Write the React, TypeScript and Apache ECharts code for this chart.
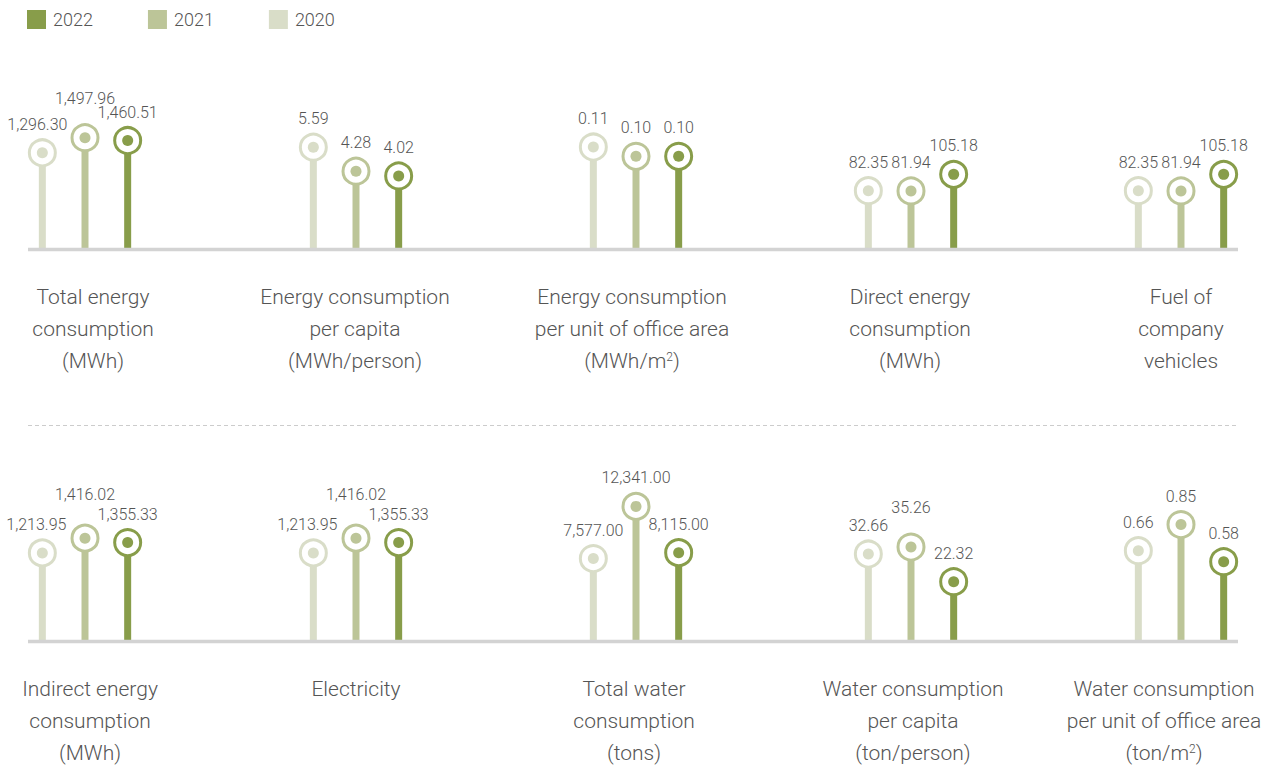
import React, { useEffect, useRef } from "react";
import * as echarts from "echarts";

// ---- Data ----
const years = ["2020", "2021", "2022"];
const legendOrder = ["2022", "2021", "2020"];

const groupLabels = [
  "Total energy\nconsumption\n(MWh)",
  "Energy consumption\nper capita\n(MWh/person)",
  "Energy consumption\nper unit of office area\n(MWh/m{sup|2})",
  "Direct energy\nconsumption\n(MWh)",
  "Fuel of\ncompany\nvehicles",
  "Indirect energy\nconsumption\n(MWh)",
  "Electricity",
  "Total water\nconsumption\n(tons)",
  "Water consumption\nper capita\n(ton/person)",
  "Water consumption\nper unit of office area\n(ton/m{sup|2})",
];

const values2020 = [1296.3, 5.59, 0.11, 82.35, 82.35, 1213.95, 1213.95, 7577.0, 32.66, 0.66];
const values2021 = [1497.96, 4.28, 0.1, 81.94, 81.94, 1416.02, 1416.02, 12341.0, 35.26, 0.85];
const values2022 = [1460.51, 4.02, 0.1, 105.18, 105.18, 1355.33, 1355.33, 8115.0, 22.32, 0.58];

// per-group axis maximum (each group is drawn on its own scale)
const axisMax = [2010, 8.2, 0.161, 210, 210, 2055, 2055, 13700, 56, 1.09];

// ---- Styles / layout ----
const yearColors = ["#d9ddc8", "#bcc598", "#889d4a"];
const textColor = "#555555";
const fontFamily = "Roboto, 'Liberation Sans', sans-serif";
const groupCenters = [85, 356, 636, 911, 1181];
const labelCenters = [93, 355, 632, 910, 1181, 90, 356, 634, 913, 1164];
const rowBaselines = [249.5, 641.5];
const plotHeight = 150;
const groupWidth = 128;
// value-label nudges to keep neighbouring labels apart: [group, yearIndex, dx, dy]
const labelNudges: [number, number, number, number][] = [
  [0, 0, -5, 0],
  [0, 1, 0, -11],
  [5, 0, -6, 0],
  [5, 1, 0, -15],
  [6, 0, -6, 0],
  [6, 1, 0, -15],
  [8, 1, 0, -11],
];

const fmt = (v: number) =>
  v.toLocaleString("en-US", { minimumFractionDigits: 2, maximumFractionDigits: 2 });

function buildOption() {
  const seriesValues = [values2020, values2021, values2022];
  const grids: any[] = [];
  const xAxes: any[] = [];
  const yAxes: any[] = [];
  const series: any[] = [];
  const graphics: any[] = [];

  groupLabels.forEach((label, g) => {
    const row = Math.floor(g / 5);
    const col = g % 5;
    const base = rowBaselines[row];
    grids.push({
      left: groupCenters[col] - groupWidth / 2,
      top: base - plotHeight,
      width: groupWidth,
      height: plotHeight,
      containLabel: false,
    });
    xAxes.push({
      type: "category",
      gridIndex: g,
      data: years,
      axisLine: { show: false },
      axisTick: { show: false },
      axisLabel: { show: false },
      splitLine: { show: false },
    });
    yAxes.push({
      type: "value",
      gridIndex: g,
      min: 0,
      max: axisMax[g],
      show: false,
      splitLine: { show: false },
    });
    graphics.push({
      type: "text",
      x: labelCenters[g],
      y: base + 31.5,
      z: 10,
      style: {
        text: label,
        fill: textColor,
        fontSize: 21,
        fontFamily,
        fontWeight: 300,
        lineHeight: 32,
        align: "center",
        verticalAlign: "top",
        rich: {
          sup: {
            fontSize: 12,
            fontFamily,
            fontWeight: 300,
            fill: textColor,
            verticalAlign: "middle",
            padding: [0, 0, 9, 0],
          },
        },
      },
    });
  });

  const dataItem = (g: number, k: number, withLabel: boolean) => {
    const item: any = { value: [k, [values2020, values2021, values2022][k][g]] };
    if (withLabel) {
      const n = labelNudges.find((x) => x[0] === g && x[1] === k);
      if (n) item.label = { offset: [n[2], n[3]] };
    }
    return item;
  };

  // bars first (so the legend picks up the solid colour)
  years.forEach((year, k) => {
    groupLabels.forEach((_, g) => {
      series.push({
        name: year,
        type: "bar",
        xAxisIndex: g,
        yAxisIndex: g,
        barWidth: 7,
        barGap: "-100%",
        itemStyle: { color: yearColors[k] },
        data: [dataItem(g, k, false)],
        z: 2,
        silent: true,
      });
    });
  });

  years.forEach((year, k) => {
    groupLabels.forEach((_, g) => {
      series.push({
        name: year,
        type: "scatter",
        xAxisIndex: g,
        yAxisIndex: g,
        symbol: "circle",
        symbolSize: 26,
        itemStyle: { color: "#ffffff", borderColor: yearColors[k], borderWidth: 3, opacity: 1 },
        label: {
          show: true,
          position: "top",
          distance: 6,
          formatter: (p: any) => fmt(p.value[1]),
          fontSize: 16,
          color: textColor,
          fontFamily,
          fontWeight: 300,
        },
        data: [dataItem(g, k, true)],
        z: 3,
        silent: true,
      });
      series.push({
        name: year,
        type: "scatter",
        xAxisIndex: g,
        yAxisIndex: g,
        symbol: "circle",
        symbolSize: 11,
        itemStyle: { color: yearColors[k], opacity: 1 },
        data: [dataItem(g, k, false)],
        z: 4,
        silent: true,
      });
    });
  });

  void seriesValues;

  graphics.push(
    {
      type: "line",
      shape: { x1: 28, y1: rowBaselines[0], x2: 1238, y2: rowBaselines[0] },
      style: { stroke: "#d3d3d3", lineWidth: 3.5 },
      z: 10,
    },
    {
      type: "line",
      shape: { x1: 28, y1: rowBaselines[1], x2: 1238, y2: rowBaselines[1] },
      style: { stroke: "#d3d3d3", lineWidth: 3.5 },
      z: 10,
    },
    {
      type: "line",
      shape: { x1: 28, y1: 425.5, x2: 1238, y2: 425.5 },
      style: { stroke: "#cccccc", lineWidth: 1, lineDash: [4, 3] },
      z: 10,
    }
  );

  return {
    animation: false,
    backgroundColor: "#ffffff",
    legend: {
      data: legendOrder,
      left: 27,
      top: 10,
      padding: 0,
      icon: "rect",
      itemWidth: 19,
      itemHeight: 19,
      itemGap: 55,
      selectedMode: false,
      textStyle: { fontSize: 18, color: textColor, fontFamily, fontWeight: 300, padding: [0, 0, 0, 2] },
    },
    grid: grids,
    xAxis: xAxes,
    yAxis: yAxes,
    series,
    graphic: graphics,
  };
}

export default function App() {
  const ref = useRef<HTMLDivElement>(null);
  useEffect(() => {
    if (!ref.current) return;
    const chart = echarts.init(ref.current, undefined, { renderer: "svg" });
    chart.setOption(buildOption() as any);
    return () => chart.dispose();
  }, []);
  return (
    <div
      ref={ref}
      style={{ position: "absolute", left: 0, top: 0, width: 1273, height: 766, background: "#fff" }}
    />
  );
}
